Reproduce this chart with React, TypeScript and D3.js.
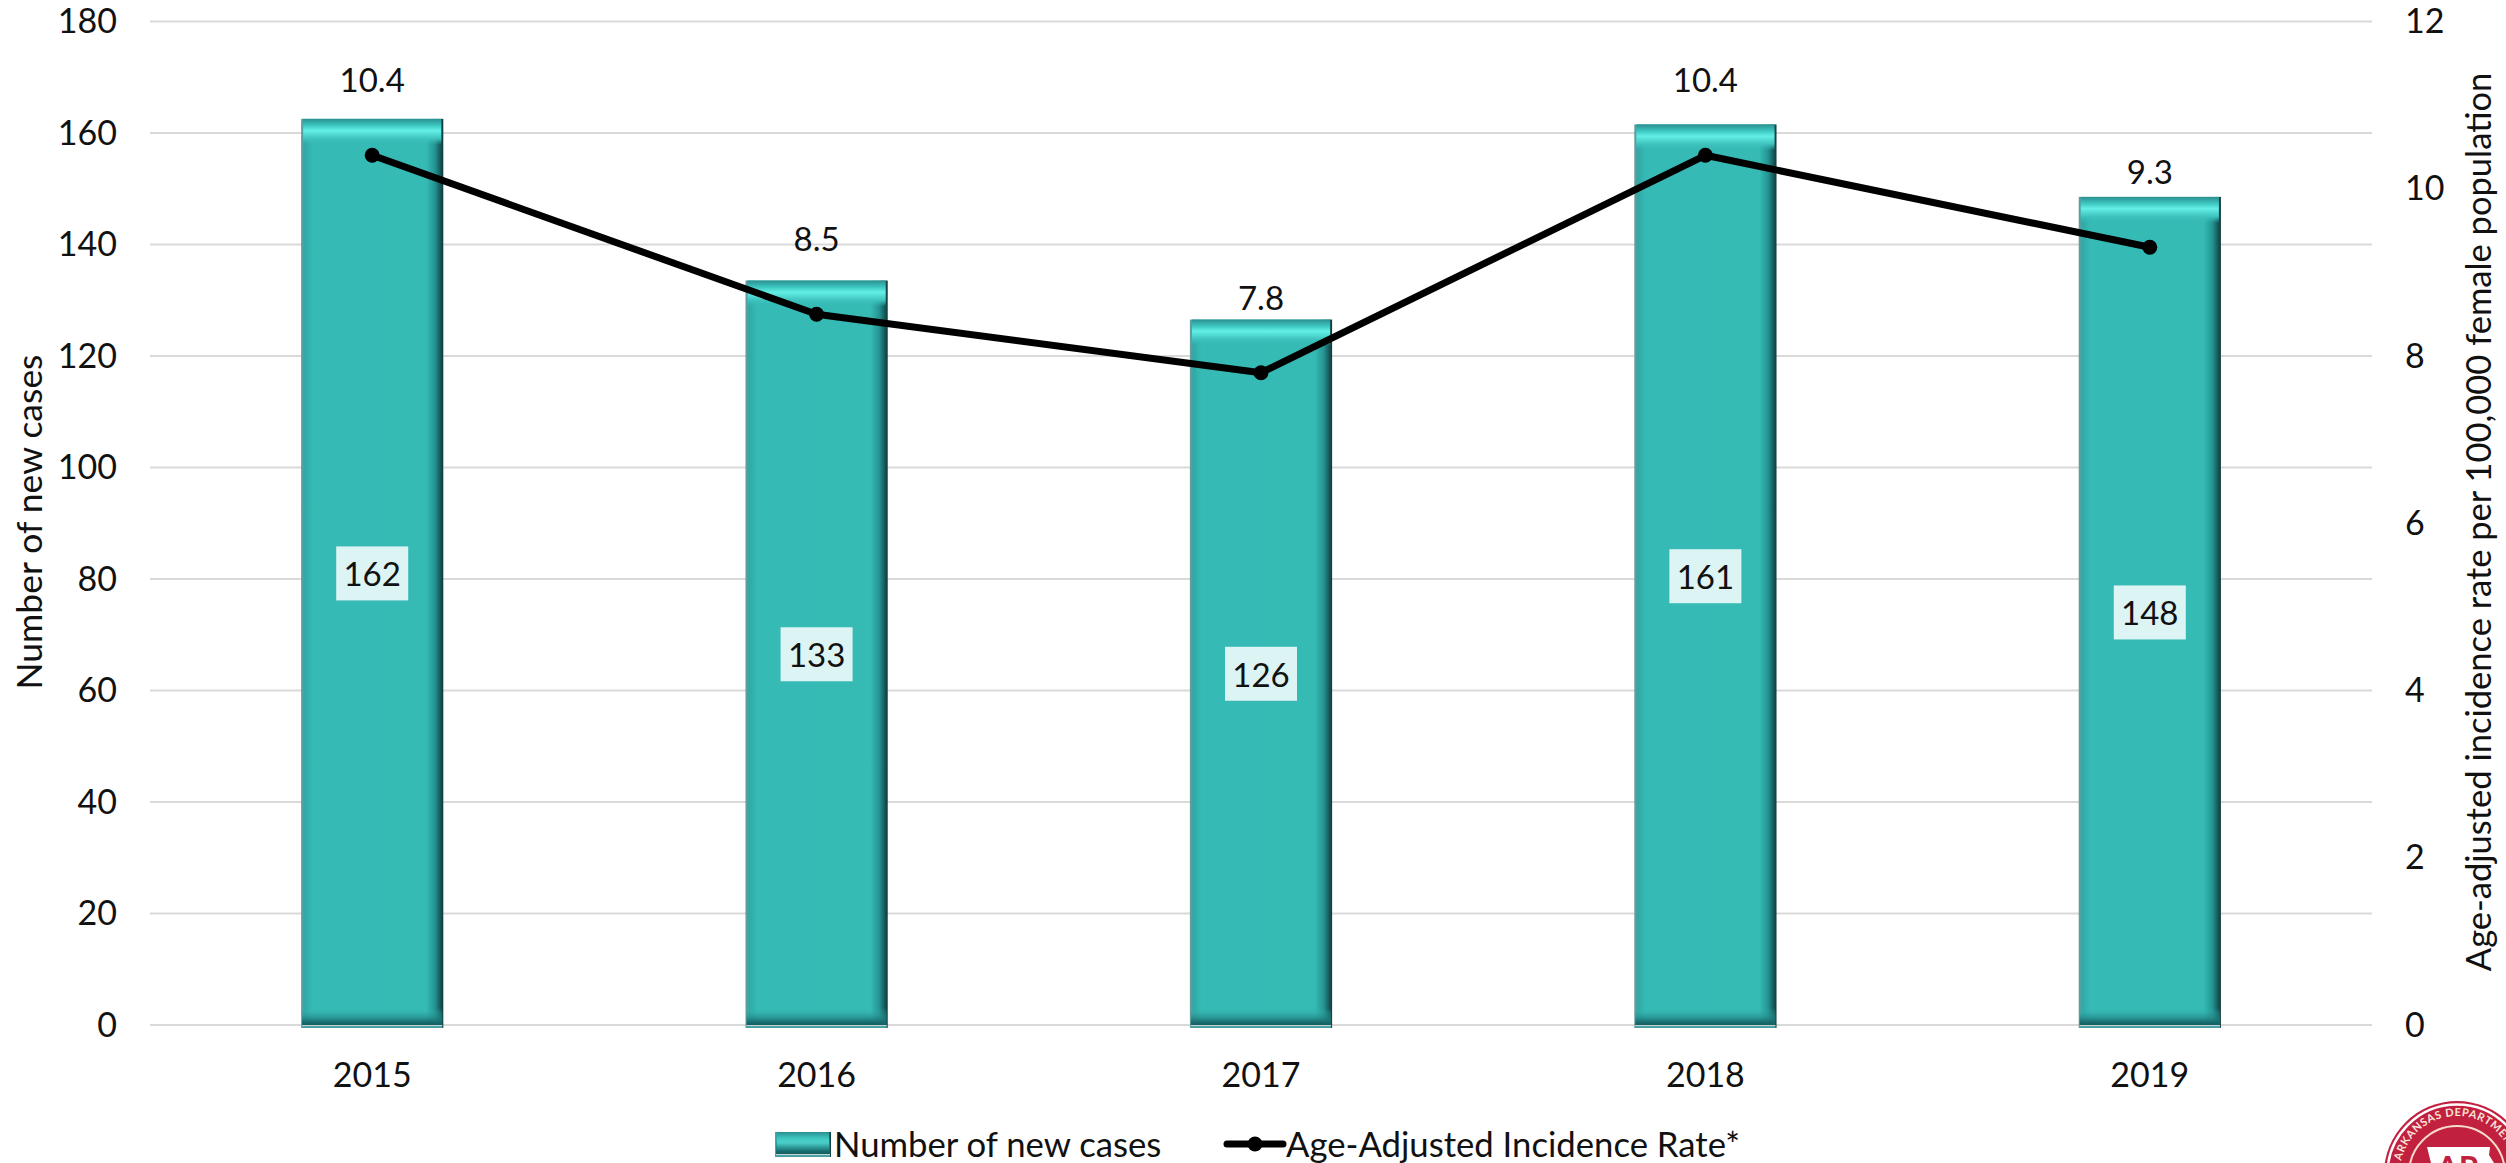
import React from "react";
import * as d3 from "d3";

const years = ["2015", "2016", "2017", "2018", "2019"];
const newCases = [162, 133, 126, 161, 148];
const rates = [10.4, 8.5, 7.8, 10.4, 9.3];
const rateLabels = ["10.4", "8.5", "7.8", "10.4", "9.3"];
const leftTicks = [0, 20, 40, 60, 80, 100, 120, 140, 160, 180];
const rightTicks = [0, 2, 4, 6, 8, 10, 12];
const FONT = "Lato, 'Open Sans', sans-serif";
const INK = "#111";

function Defs() {
  return (
    <defs>
      <linearGradient id="hShade" x1="0" x2="1" y1="0" y2="0">
        <stop offset="0" stopColor="#6f9a9a" />
        <stop offset="0.025" stopColor="#2fa9a6" />
        <stop offset="0.08" stopColor="#36bab6" />
        <stop offset="0.88" stopColor="#36bab4" />
        <stop offset="0.94" stopColor="#249593" />
        <stop offset="1" stopColor="#0f383b" />
      </linearGradient>
      <linearGradient id="topShade" x1="0" x2="0" y1="0" y2="1">
        <stop offset="0" stopColor="#2b8f90" />
        <stop offset="0.25" stopColor="#3cc6c0" />
        <stop offset="0.45" stopColor="#63efe6" />
        <stop offset="0.75" stopColor="#3fc4bf" />
        <stop offset="1" stopColor="#36bab6" stopOpacity="0" />
      </linearGradient>
      <linearGradient id="botShade" x1="0" x2="0" y1="0" y2="1">
        <stop offset="0" stopColor="#36bab6" stopOpacity="0" />
        <stop offset="0.72" stopColor="#176a6c" />
        <stop offset="0.85" stopColor="#175f62" />
        <stop offset="0.87" stopColor="#cfdcdc" />
        <stop offset="0.9" stopColor="#58a8aa" />
        <stop offset="1" stopColor="#3f9a9c" />
      </linearGradient>
      <path id="sealArc" d="M2400,1173 a57,57 0 0 1 114,0" fill="none" />
    </defs>
  );
}

function Bar({ x, y, w, h }: { x: number; y: number; w: number; h: number }) {
  return (
    <g>
      <rect x={x} y={y} width={w} height={h} fill="url(#hShade)" />
      <rect x={x + 2} y={y} width={w - 4} height={Math.min(26, h)} fill="url(#topShade)" />
      <rect x={x + 1} y={y + h - 20} width={w - 2} height={20} fill="url(#botShade)" />
    </g>
  );
}

export default function App() {
  const width = 2506;
  const height = 1163;
  const x = d3.scaleBand<string>().domain(years).range([150, 2372]).paddingInner(0.68).paddingOuter(0.34);
  const yLeft = d3.scaleLinear().domain([0, 180]).range([1025, 21.5]);
  const yRight = d3.scaleLinear().domain([0, 12]).range([1025, 21.5]);
  const cx = (d: string) => (x(d) as number) + x.bandwidth() / 2;
  const line = d3
    .line<number>()
    .x((_, i) => cx(years[i]))
    .y((d) => yRight(d));

  return (
    <svg
      width={width}
      height={height}
      viewBox={`0 0 ${width} ${height}`}
      style={{ position: "fixed", left: 0, top: 0, background: "#fff" }}
      fontFamily={FONT}
    >
      <Defs />
      {leftTicks.map((t) => (
        <line key={t} x1={150} x2={2372} y1={yLeft(t)} y2={yLeft(t)} stroke="#d9d9d9" strokeWidth={2} />
      ))}
      {years.map((yr, i) => {
        const top = yLeft(newCases[i]) - 3;
        return <Bar key={yr} x={x(yr) as number} y={top} w={x.bandwidth()} h={1028 - top} />;
      })}
      <path d={line(rates) as string} fill="none" stroke="#000" strokeWidth={7} strokeLinejoin="round" />
      {rates.map((r, i) => (
        <circle key={years[i]} cx={cx(years[i])} cy={yRight(r)} r={7.5} fill="#000" />
      ))}
      {years.map((yr, i) => (
        <text key={yr} x={cx(yr)} y={yRight(rates[i]) - 76} textAnchor="middle" dominantBaseline="central" fontSize={33} fill={INK}>
          {rateLabels[i]}
        </text>
      ))}
      {years.map((yr, i) => {
        const my = (yLeft(newCases[i]) + yLeft(0)) / 2;
        return (
          <g key={yr}>
            <rect x={cx(yr) - 36} y={my - 27} width={72} height={54} fill="#dcf4f3" />
            <text x={cx(yr)} y={my} textAnchor="middle" dominantBaseline="central" fontSize={33} fill={INK}>
              {newCases[i]}
            </text>
          </g>
        );
      })}
      {years.map((yr) => (
        <text key={yr} x={cx(yr)} y={1073} textAnchor="middle" dominantBaseline="central" fontSize={34} fill={INK}>
          {yr}
        </text>
      ))}
      {leftTicks.map((t) => (
        <text key={t} x={117} y={yLeft(t) - 2} textAnchor="end" dominantBaseline="central" fontSize={34} fill={INK}>
          {t}
        </text>
      ))}
      {rightTicks.map((t) => (
        <text key={t} x={2405} y={yRight(t) - 2} textAnchor="start" dominantBaseline="central" fontSize={34} fill={INK}>
          {t}
        </text>
      ))}
      <text transform="translate(28,522) rotate(-90)" textAnchor="middle" dominantBaseline="central" fontSize={35.5} fill={INK}>
        Number of new cases
      </text>
      <text transform="translate(2477,522) rotate(-90)" textAnchor="middle" dominantBaseline="central" fontSize={34.5} fill={INK}>
        Age-adjusted incidence rate per 100,000 female population
      </text>
      <Bar x={775} y={1132} w={56} h={25} />
      <text x={834} y={1143} dominantBaseline="central" fontSize={34.7} fill={INK}>
        Number of new cases
      </text>
      <line x1={1227} x2={1283} y1={1144} y2={1144} stroke="#000" strokeWidth={7} strokeLinecap="round" />
      <circle cx={1255} cy={1144} r={7.5} fill="#000" />
      <text x={1286} y={1143} dominantBaseline="central" fontSize={34.7} fill={INK}>
        Age-Adjusted Incidence Rate*
      </text>
      <g>
        <circle cx={2457} cy={1174} r={73} fill="#c2203f" />
        <circle cx={2457} cy={1174} r={69.5} fill="none" stroke="#fff" strokeWidth={2.5} />
        <circle cx={2457} cy={1174} r={48} fill="none" stroke="#f6dcc8" strokeWidth={2} />
        <text fontSize={11} fontWeight={700} fill="#f8e4d8" letterSpacing={0.6}>
          <textPath href="#sealArc" startOffset={12}>
            ARKANSAS DEPARTMENT
          </textPath>
        </text>
        <path d="M2427,1147 L2490,1147 L2489,1155 L2494,1163 L2431,1163 Z" fill="#fff" />
        <text x={2458} y={1180} textAnchor="middle" fontSize={32} fontWeight={700} fill="#c2203f">
          AR
        </text>
      </g>
    </svg>
  );
}
